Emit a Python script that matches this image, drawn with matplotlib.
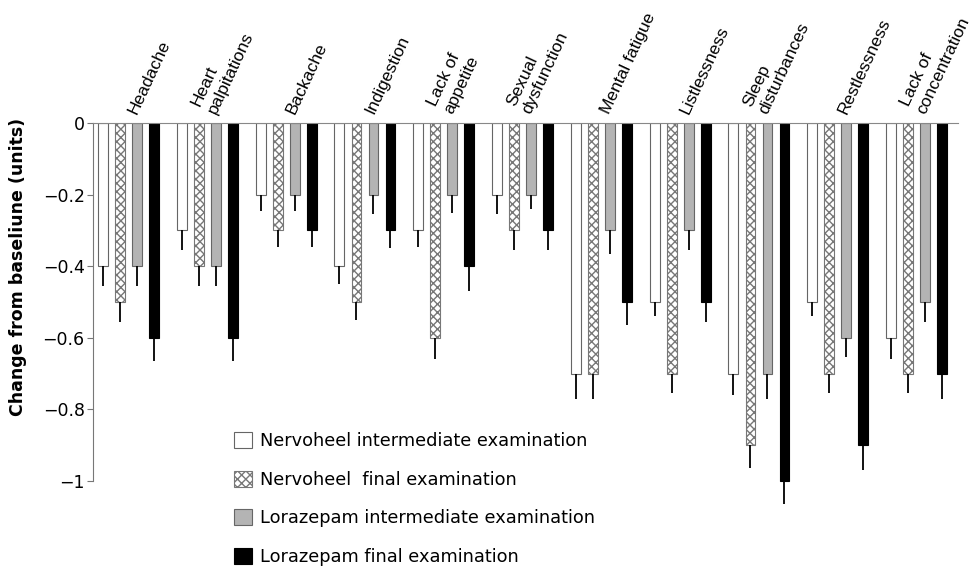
import numpy as np
import matplotlib
matplotlib.use('Agg')
import matplotlib.pyplot as plt
from matplotlib.patches import Patch

plt.rcParams['font.family'] = ['DejaVu Sans']

# symptoms
symptoms = ['Headache', 'Heart\npalpitations', 'Backache', 'Indigestion', 'Lack of\nappetite',
            'Sexual\ndysfunction', 'Mental fatigue', 'Listlessness', 'Sleep\ndisturbances',
            'Restlessness', 'Lack of\nconcentration']

# mean change from baseline
nerv_inter = [-0.4, -0.3, -0.2, -0.4, -0.3, -0.2, -0.7, -0.5, -0.7, -0.5, -0.6]
nerv_final = [-0.5, -0.4, -0.3, -0.5, -0.6, -0.3, -0.7, -0.7, -0.9, -0.7, -0.7]
lora_inter = [-0.4, -0.4, -0.2, -0.2, -0.2, -0.2, -0.3, -0.3, -0.7, -0.6, -0.5]
lora_final = [-0.6, -0.6, -0.3, -0.3, -0.4, -0.3, -0.5, -0.5, -1.0, -0.9, -0.7]

# error bars (downward only)
err_nerv_inter = [0.055, 0.055, 0.045, 0.05, 0.045, 0.055, 0.07, 0.04, 0.06, 0.04, 0.06]
err_nerv_final = [0.055, 0.055, 0.045, 0.05, 0.06, 0.055, 0.07, 0.055, 0.065, 0.055, 0.055]
err_lora_inter = [0.055, 0.055, 0.045, 0.055, 0.05, 0.04, 0.065, 0.055, 0.07, 0.055, 0.055]
err_lora_final = [0.065, 0.065, 0.045, 0.05, 0.07, 0.055, 0.065, 0.055, 0.065, 0.07, 0.07]

series_labels = ['Nervoheel intermediate examination', 'Nervoheel  final examination',
                 'Lorazepam intermediate examination', 'Lorazepam final examination']

fig = plt.figure(figsize=(9.72, 5.66), dpi=100)
ax = fig.add_axes([93 / 972, 0, 865 / 972, 1 - 123 / 566])

x = np.arange(len(symptoms))
w = 0.216  # bar spacing
bw = 0.125  # bar width

styles = [
    dict(color='white', edgecolor='#666666', hatch=None),
    dict(color='white', edgecolor='#777777', hatch='xxxx'),
    dict(color='#b4b4b4', edgecolor='#666666', hatch=None),
    dict(color='black', edgecolor='black', hatch=None),
]
data = [nerv_inter, nerv_final, lora_inter, lora_final]
errs = [err_nerv_inter, err_nerv_final, err_lora_inter, err_lora_final]

handles = []
for k in range(4):
    pos = x + (k - 1.5) * w
    st = styles[k]
    ax.bar(pos, data[k], width=bw, color=st['color'], edgecolor=st['edgecolor'],
           hatch=st['hatch'], linewidth=0.8, zorder=2)
    ax.errorbar(pos, data[k], yerr=[errs[k], np.zeros(len(errs[k]))], fmt='none',
                ecolor='black', elinewidth=1.3, capsize=0, zorder=3)
    handles.append(Patch(facecolor=st['color'], edgecolor=st['edgecolor'], hatch=st['hatch'],
                         linewidth=0.8, label=series_labels[k]))

ax.set_xlim(-0.451, len(symptoms) - 1 + 0.526)
ax.set_ylim(-(566 - 123) / 358, 0)

# axes style
for s in ['right', 'bottom']:
    ax.spines[s].set_visible(False)
ax.spines['top'].set_color('#888888')
ax.spines['left'].set_color('#777777')
ax.spines['left'].set_bounds(-1, 0)
ax.set_xticks([])
ax.set_yticks([0, -0.2, -0.4, -0.6, -0.8, -1])
ax.set_yticklabels(['0', '\u22120.2', '\u22120.4', '\u22120.6', '\u22120.8', '\u22121'])
ax.tick_params(axis='y', length=4, color='#777777', labelsize=12.5, pad=2)
ax.set_ylabel('Change from baseliune (units)', fontsize=12.5, fontweight='bold')
ax.yaxis.set_label_coords(-0.076, (566 - 267) / 443)

# category labels above the zero line
for i, name in enumerate(symptoms):
    ax.annotate(name, xy=(x[i], 0), xytext=(8, 5), textcoords='offset points',
                rotation=65, rotation_mode='anchor', ha='left', va='bottom',
                fontsize=12.5, family='Liberation Sans', annotation_clip=False)

# legend
fig.legend(handles=handles, loc='upper left', bbox_to_anchor=(234 / 972, 1 - 432 / 566),
           frameon=False, fontsize=12.8, handlelength=1.0, handleheight=1.0,
           handletextpad=0.45, labelspacing=1.16, borderpad=0, borderaxespad=0)

plt.savefig('out.png', dpi=100)
